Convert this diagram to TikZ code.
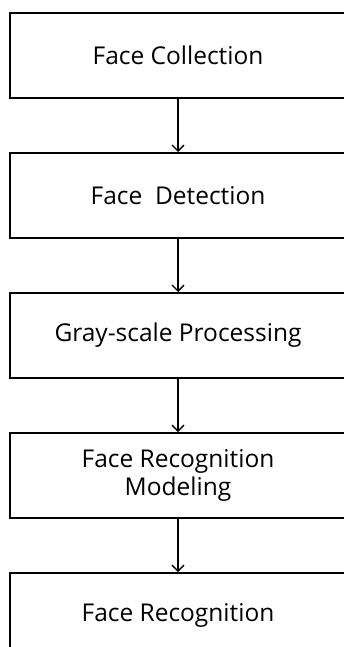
\documentclass[tikz,border=0pt]{standalone}
\usepackage{fontspec}
\setmainfont{Open Sans}
\usetikzlibrary{positioning,arrows.meta}
\begin{document}
\begin{tikzpicture}[x=1pt,y=-1pt,
    stepbox/.style={draw, line width=2pt, minimum width=336pt, minimum height=85pt,
        align=center, inner sep=0pt, font=\fontsize{24.5}{28}\selectfont},
    flow/.style={-{Straight Barb[length=6pt,width=12pt]}, line width=1.4pt},
    node distance=53pt]
    \useasboundingbox (0,0) rectangle (344,647);
    \clip (0,0) rectangle (344,647);
    \node[stepbox] (collect) at (178,55.5) {Face Collection};
    \node[stepbox, below=of collect] (detect) {Face\ \ Detection};
    \node[stepbox, below=of detect] (gray) {Gray-scale Processing};
    \node[stepbox, below=of gray] (model) {Face Recognition\\Modeling};
    \node[stepbox, below=of model] (recog) {Face Recognition};
    \draw[flow] (collect) -- (detect);
    \draw[flow] (detect) -- (gray);
    \draw[flow] (gray) -- (model);
    \draw[flow] (model) -- (recog);
\end{tikzpicture}
\end{document}
